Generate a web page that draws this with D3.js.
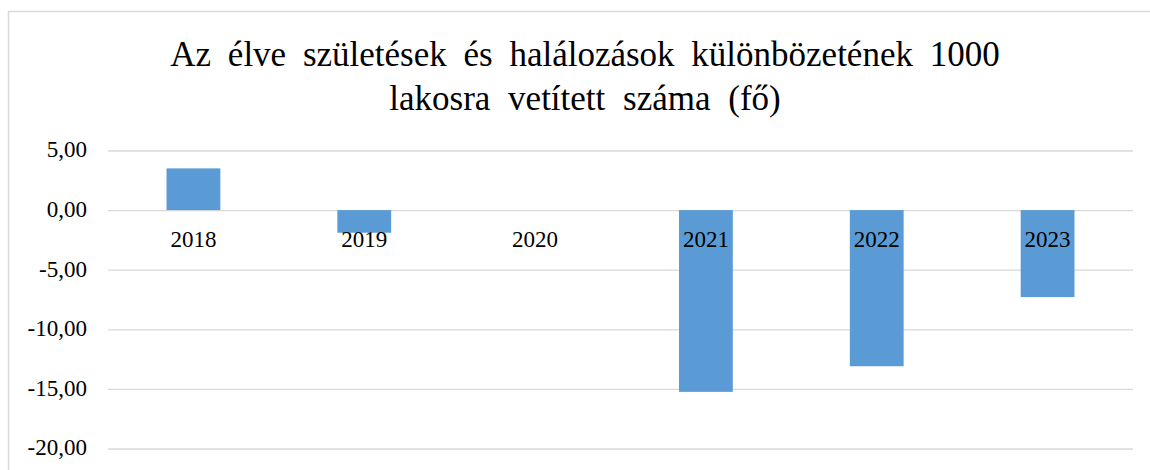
<!DOCTYPE html>
<html>
<head>
<meta charset="utf-8">
<script src="https://cdn.jsdelivr.net/npm/d3@7"></script>
<style>
  html, body { margin: 0; padding: 0; background: #fff; }
  svg { display: block; font-family: "Liberation Serif", "Times New Roman", serif; }
  .grid line { stroke: #d9d9d9; stroke-width: 1.3; }
  .grid path { display: none; }
  .chart-title { font-size: 35px; fill: #000; }
  .cat-label, .tick-label { font-size: 23px; fill: #000; }
</style>
</head>
<body>
<svg id="chart"></svg>
<script>
const years = ["2018", "2019", "2020", "2021", "2022", "2023"];
const values = [3.5, -1.9, 0, -15.25, -13.1, -7.3];
const yTicks = [5, 0, -5, -10, -15, -20];
const titleLines = [
  "Az élve születések és halálozások különbözetének 1000",
  "lakosra vetített száma (fő)"
];

const width = 1150;
const height = 470;
const margin = { top: 150.5, right: 17, bottom: 21.5, left: 108 };

const svg = d3.select("#chart").attr("width", width).attr("height", height);

// chart frame
svg.append("rect")
  .attr("x", 8.5)
  .attr("y", 11.5)
  .attr("width", width)
  .attr("height", height)
  .attr("fill", "none")
  .attr("stroke", "#d9d9d9")
  .attr("stroke-width", 1.5);

const x = d3.scaleBand()
  .domain(years)
  .range([margin.left, width - margin.right])
  .paddingInner(0.685)
  .paddingOuter(0.3425);

const y = d3.scaleLinear()
  .domain([-20, 5])
  .range([height - margin.bottom, margin.top]);

svg.append("g")
  .attr("class", "grid")
  .attr("transform", `translate(${margin.left}, 0)`)
  .call(d3.axisLeft(y).tickValues(yTicks).tickSize(-(width - margin.right - margin.left)).tickFormat(""));

const fmt = (v) => d3.format(".2f")(v).replace(".", ",").replace("−", "-");

// y tick labels, placed with the y scale
svg.append("g")
  .selectAll("text")
  .data(yTicks)
  .join("text")
  .attr("class", "tick-label")
  .attr("x", margin.left - 21)
  .attr("y", (d) => y(d))
  .attr("dy", "0.3em")
  .attr("text-anchor", "end")
  .text(fmt);

svg.append("g")
  .selectAll("rect")
  .data(values)
  .join("rect")
  .attr("x", (d, i) => x(years[i]))
  .attr("y", (d) => y(Math.max(0, d)))
  .attr("width", x.bandwidth())
  .attr("height", (d) => Math.abs(y(d) - y(0)))
  .attr("fill", "#5b9bd5");

svg.append("g")
  .selectAll("text")
  .data(years)
  .join("text")
  .attr("class", "cat-label")
  .attr("x", (d) => x(d) + x.bandwidth() / 2)
  .attr("y", y(0) + 37)
  .attr("text-anchor", "middle")
  .text((d) => d);

svg.append("g")
  .selectAll("text")
  .data(titleLines)
  .join("text")
  .attr("class", "chart-title")
  .attr("x", 585)
  .attr("y", (d, i) => 66 + i * 44)
  .attr("text-anchor", "middle")
  .attr("word-spacing", (d, i) => (i === 0 ? 8 : 9))
  .text((d) => d);
</script>
</body>
</html>
